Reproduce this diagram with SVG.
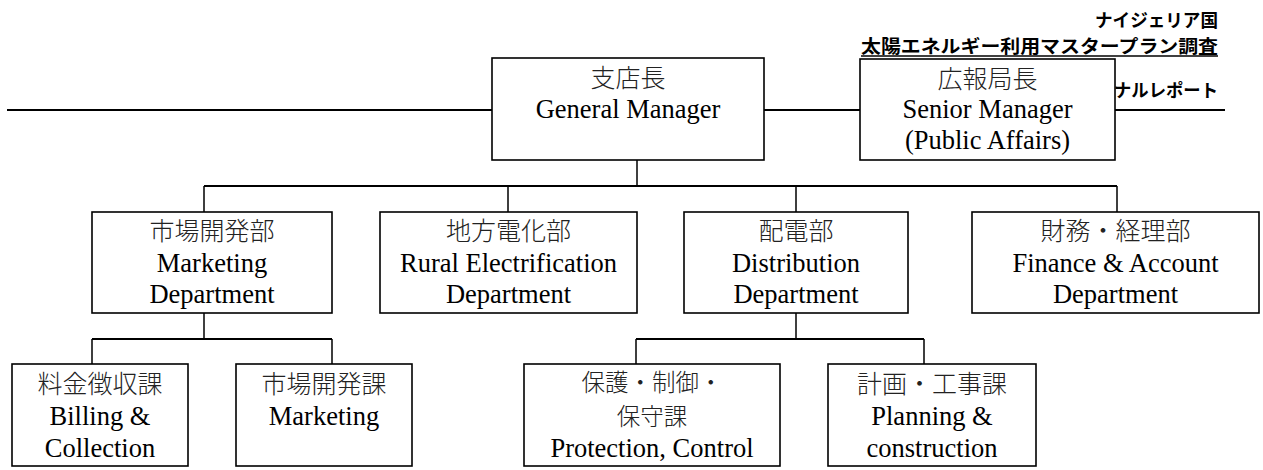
<svg xmlns="http://www.w3.org/2000/svg" width="1263" height="470" viewBox="0 0 1263 470">
<style>
.box{fill:#fff;stroke:#000;stroke-width:1.6}
.t{font-family:"Liberation Serif","Times New Roman","DejaVu Serif",serif;font-size:26.5px;fill:#000;text-anchor:middle}
.j{font-family:"Noto Sans CJK JP","Noto Sans CJK SC",sans-serif;font-size:25px;font-weight:300;fill:#222;text-anchor:middle}
.h{font-family:"Noto Sans CJK JP","Noto Sans CJK SC",sans-serif;font-size:18px;font-weight:bold;fill:#000;text-anchor:end}
.c{fill:none;stroke:#000;stroke-width:1.5}
.bar{fill:none;stroke:#000;stroke-width:2}
</style>
<g id="header">
<text class="h" x="1218" y="27" textLength="123" lengthAdjust="spacingAndGlyphs">ナイジェリア国</text>
<text class="h" x="1218" y="53" textLength="357" lengthAdjust="spacingAndGlyphs">太陽エネルギー利用マスタープラン調査</text>
<line x1="861" y1="56" x2="1218" y2="56" stroke="#000" stroke-width="1.3"/>
<text class="h" x="1218" y="97" textLength="104" lengthAdjust="spacingAndGlyphs">ナルレポート</text>
<line x1="7" y1="110" x2="1225" y2="110" stroke="#000" stroke-width="2"/>
</g>
<g id="connectors">
<path class="c" d="M637 160V186"/>
<path class="bar" d="M204 186H1117"/>
<path class="c" d="M204 186V212M508 186V212M796 186V212M1117 186V212"/>
<path class="c" d="M204 313V339"/>
<path class="bar" d="M92 339H332"/>
<path class="c" d="M92 339V364M332 339V364"/>
<path class="c" d="M796 313V339"/>
<path class="bar" d="M636 339H924"/>
<path class="c" d="M636 339V364M924 339V364"/>
</g>
<g id="general-manager">
<rect class="box" x="492" y="58" width="272" height="102"/>
<text class="j" x="628" y="87">支店長</text>
<text class="t" x="628" y="118">General Manager</text>
</g>
<g id="senior-manager">
<rect class="box" x="860" y="59" width="255" height="101"/>
<text class="j" x="987.5" y="88">広報局長</text>
<text class="t" x="987.5" y="118">Senior Manager</text>
<text class="t" x="987.5" y="149">(Public Affairs)</text>
</g>
<g id="marketing-dept">
<rect class="box" x="92" y="212" width="240" height="101"/>
<text class="j" x="212" y="240">市場開発部</text>
<text class="t" x="212" y="272">Marketing</text>
<text class="t" x="212" y="303">Department</text>
</g>
<g id="rural-dept">
<rect class="box" x="380" y="212" width="257" height="101"/>
<text class="j" x="508.5" y="240">地方電化部</text>
<text class="t" x="508.5" y="272">Rural Electrification</text>
<text class="t" x="508.5" y="303">Department</text>
</g>
<g id="distribution-dept">
<rect class="box" x="684" y="212" width="224" height="101"/>
<text class="j" x="796" y="240">配電部</text>
<text class="t" x="796" y="272">Distribution</text>
<text class="t" x="796" y="303">Department</text>
</g>
<g id="finance-dept">
<rect class="box" x="972" y="212" width="287" height="101"/>
<text class="j" x="1115.5" y="240">財務・経理部</text>
<text class="t" x="1115.5" y="272">Finance &amp; Account</text>
<text class="t" x="1115.5" y="303">Department</text>
</g>
<g id="billing">
<rect class="box" x="12" y="364" width="176" height="102"/>
<text class="j" x="100" y="393">料金徴収課</text>
<text class="t" x="100" y="425">Billing &amp;</text>
<text class="t" x="100" y="457">Collection</text>
</g>
<g id="marketing-sec">
<rect class="box" x="236" y="364" width="176" height="102"/>
<text class="j" x="324" y="393">市場開発課</text>
<text class="t" x="324" y="425">Marketing</text>
</g>
<g id="protection">
<rect class="box" x="524" y="364" width="256" height="102"/>
<text class="j" x="652" y="391" style="font-size:23.5px">保護・制御・</text>
<text class="j" x="652" y="425" style="font-size:23.5px">保守課</text>
<text class="t" x="652" y="457">Protection, Control</text>
</g>
<g id="planning">
<rect class="box" x="828" y="364" width="208" height="102"/>
<text class="j" x="932" y="393">計画・工事課</text>
<text class="t" x="932" y="425">Planning &amp;</text>
<text class="t" x="932" y="457">construction</text>
</g>
</svg>
